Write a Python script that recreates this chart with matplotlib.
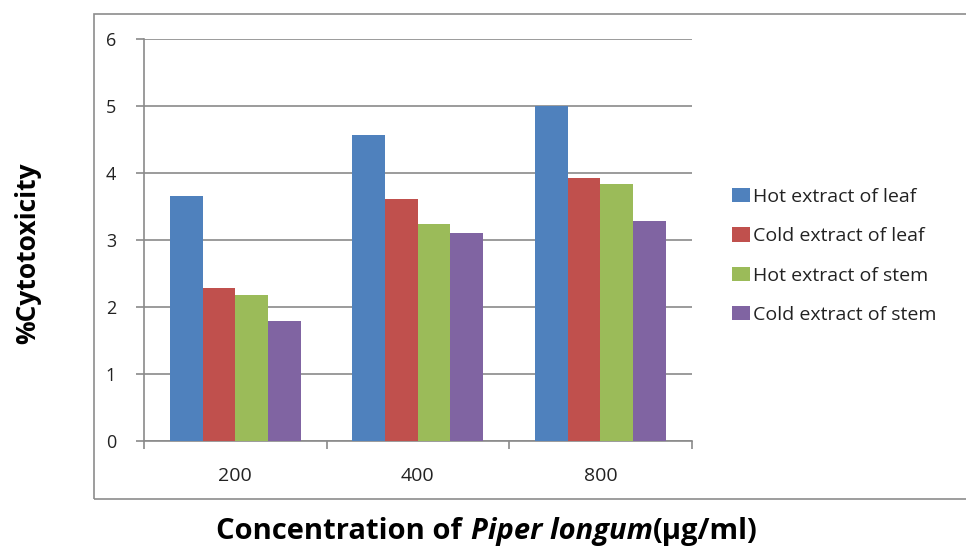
import numpy as np
import matplotlib
matplotlib.use("Agg")
from matplotlib import pyplot as plt
from matplotlib.patches import Rectangle
from matplotlib.offsetbox import TextArea, HPacker, AnchoredOffsetbox

# dati
concentrazioni = ["200", "400", "800"]
serie = ["Hot extract of leaf", "Cold extract of leaf",
         "Hot extract of stem", "Cold extract of stem"]
hot_leaf = [3.65, 4.56, 5.0]
cold_leaf = [2.28, 3.61, 3.93]
hot_stem = [2.18, 3.23, 3.83]
cold_stem = [1.79, 3.11, 3.28]
colori = ["#4F81BD", "#C0504D", "#9BBB59", "#8064A2"]

plt.rcParams["font.family"] = ["Open Sans", "DejaVu Sans"]

fig = plt.figure(figsize=(9.66, 5.54), dpi=100)

# cornice esterna stile excel
fig.patches.append(Rectangle((0.0973, 0.0993), 0.91, 0.876, transform=fig.transFigure,
                             fill=False, edgecolor="#8c8c8c", linewidth=1.2))

ax = fig.add_axes([0.149, 0.204, 0.567, 0.726])

valori = [hot_leaf, cold_leaf, hot_stem, cold_stem]
x = np.arange(len(concentrazioni)) + 0.5
larghezza = 0.179
for i, (nome, v) in enumerate(zip(serie, valori)):
    ax.bar(x + (i - 1.5) * larghezza, v, width=larghezza, color=colori[i],
           label=nome, zorder=3)

ax.set_xlim(0, 3)
ax.set_ylim(0, 6)
ax.set_yticks(range(0, 7))
ax.yaxis.grid(True, color="#8a8a8a", linewidth=1.2, zorder=0)

# tick ai bordi delle categorie
ax.set_xticks([0, 1, 2, 3])
ax.set_xticklabels([])
ax.set_xticks(x, minor=True)
ax.set_xticklabels(concentrazioni, minor=True, fontsize=14, color="#222222")
ax.tick_params(axis="x", which="minor", length=0, pad=19)
ax.tick_params(axis="x", which="major", length=6, color="#8a8a8a", width=1.2)
ax.tick_params(axis="y", length=6, color="#8a8a8a", width=1.2, labelsize=13,
               pad=14, labelcolor="#222222")

for lato in ["top", "right"]:
    ax.spines[lato].set_visible(False)
for lato in ["left", "bottom"]:
    ax.spines[lato].set_color("#8a8a8a")
    ax.spines[lato].set_linewidth(1.2)

fig.text(0.029, 0.543, "%Cytotoxicity", fontsize=19, fontweight="bold",
         rotation=90, ha="center", va="center")

# etichetta asse x: pezzo in corsivo grassetto
parte1 = TextArea("Concentration of", textprops=dict(fontsize=21, fontweight="bold"))
parte2 = TextArea("Piper longum", textprops=dict(fontsize=21, fontweight="bold", fontstyle="italic"))
parte3 = TextArea("(μg/ml)", textprops=dict(fontsize=21, fontweight="bold"))
riga = HPacker(children=[HPacker(children=[parte1, parte2], sep=6, pad=0), parte3],
               sep=0, pad=0, align="baseline")
box = AnchoredOffsetbox(loc="center", child=riga, pad=0, borderpad=0, frameon=False,
                        bbox_to_anchor=(0.504, 0.04), bbox_transform=fig.transFigure)
fig.add_artist(box)

leg = ax.legend(loc="center left", bbox_to_anchor=(0.758, 0.538),
                bbox_transform=fig.transFigure, frameon=False, fontsize=14,
                handlelength=0.93, handleheight=0.75, handletextpad=0.15,
                labelspacing=1.1, borderpad=0, borderaxespad=0)
for t in leg.get_texts():
    t.set_color("#222222")

fig.savefig("out.png", dpi=100)
